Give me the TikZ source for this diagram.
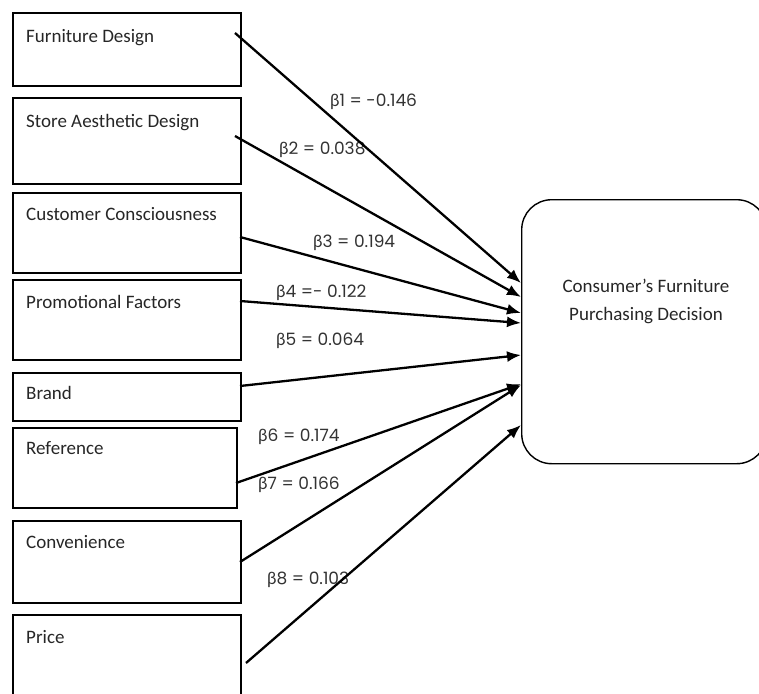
\documentclass[tikz,border=0pt]{standalone}
\usepackage{fontspec}
\setmainfont{Carlito}
\newfontfamily\lblfont{Poppins}
\newfontfamily\grkfont{Lato}
\usetikzlibrary{arrows.meta}
\newcommand{\bt}{{\grkfont β}}
\begin{document}
\begin{tikzpicture}[x=1pt,y=-1pt,
  box/.style={draw, line width=2.4pt, inner sep=0pt, anchor=north west},
  txt/.style={anchor=base west, inner sep=0pt, font=\fontsize{19}{23}\selectfont, text=black!85},
  lbl/.style={anchor=west, inner sep=0pt, font=\lblfont\fontsize{17}{20}\selectfont, text=black!80},
  arr/.style={line width=2.3pt, -{Latex[length=14pt,width=11pt]}},
  dec/.style={draw, line width=1.4pt, rounded corners=30pt, inner sep=0pt, anchor=north west}]
\useasboundingbox (0,0) rectangle (759,693);
% left boxes
\node[box, minimum width=228pt, minimum height=73pt] (b1) at (12,12) {};
\node[box, minimum width=228pt, minimum height=86pt] (b2) at (12,97) {};
\node[box, minimum width=228pt, minimum height=80pt] (b3) at (12,192) {};
\node[box, minimum width=228pt, minimum height=80pt] (b4) at (12,279) {};
\node[box, minimum width=228pt, minimum height=48pt] (b5) at (12,372) {};
\node[box, minimum width=224pt, minimum height=80pt] (b6) at (12,427) {};
\node[box, minimum width=228pt, minimum height=82pt] (b7) at (12,520) {};
\node[box, minimum width=228pt, minimum height=100pt] (b8) at (12,614) {};
% box texts
\node[txt] (t1) at (26,42) {Furniture Design};
\node[txt] (t2) at (26,127) {Store Aesthetic Design};
\node[txt] (t3) at (26,220) {Customer Consciousness};
\node[txt] (t4) at (26,308) {Promotional Factors};
\node[txt] (t5) at (26,399) {Brand};
\node[txt] (t6) at (26,454) {Reference};
\node[txt] (t7) at (26,548) {Convenience};
\node[txt] (t8) at (26,643) {Price};
% decision box
\node[dec, minimum width=245pt, minimum height=264pt] (d) at (521,199) {};
\node[txt, anchor=center] (dt1) at (646,286) {Consumer’s Furniture};
\node[txt, anchor=center] (dt2) at (646,316) {Purchasing Decision};
% coefficient labels
\node[lbl] (l1) at (330,102) {\bt1 = -0.146};
\node[lbl] (l2) at (279,150) {\bt2 = 0.038};
\node[lbl] (l3) at (313,243) {\bt3 = 0.194};
\node[lbl] (l4) at (276,293) {\bt4 =- 0.122};
\node[lbl] (l5) at (276,341) {\bt5 = 0.064};
\node[lbl] (l6) at (258,437) {\bt6 = 0.174};
\node[lbl] (l7) at (258,485) {\bt7 = 0.166};
\node[lbl] (l8) at (267,580) {\bt8 = 0.103};
% arrow ends
\coordinate (s1) at (235,33);
\coordinate (s2) at (235,136);
\coordinate (s3) at (240,237);
\coordinate (s4) at (240,301);
\coordinate (s5) at (240,386);
\coordinate (s6) at (236,483);
\coordinate (s7) at (240,562);
\coordinate (s8) at (246,663);
\coordinate (e1) at (521,283);
\coordinate (e2) at (521,297);
\coordinate (e3) at (521,313);
\coordinate (e4) at (521,323);
\coordinate (e5) at (521,355);
\coordinate (e6) at (521,384);
\coordinate (e7) at (521,385);
\coordinate (e8) at (521,425);
\foreach \i in {1,...,8} {\draw[arr] (s\i) -- (e\i);}
\end{tikzpicture}
\end{document}
